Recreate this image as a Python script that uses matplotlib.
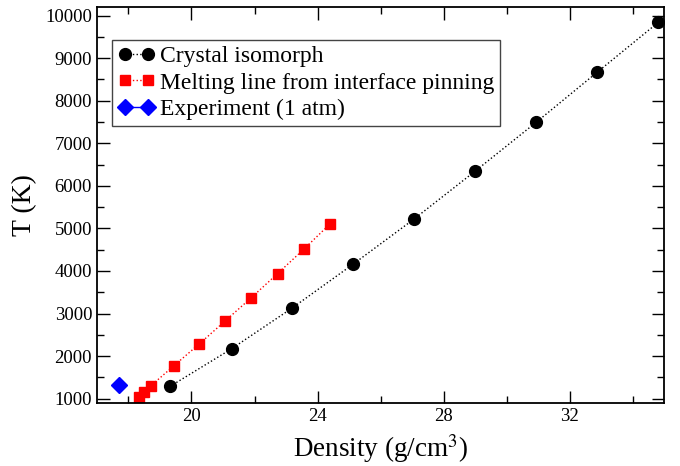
import numpy as np
import matplotlib.pyplot as plt
from matplotlib.ticker import MultipleLocator

plt.rcParams['font.family'] = ['Liberation Serif', 'DejaVu Serif']
plt.rcParams['mathtext.fontset'] = 'stix'

# crystal isomorph
iso_rho = [19.32, 21.27, 23.20, 25.13, 27.06, 29.00, 30.94, 32.87, 34.81]
iso_T = [1290, 2172, 3133, 4160, 5218, 6343, 7492, 8664, 9836]

# melting line from interface pinning
melt_rho = [18.33, 18.49, 18.70, 19.45, 20.25, 21.06, 21.90, 22.73, 23.57, 24.40]
melt_T = [1040, 1157, 1297, 1780, 2289, 2821, 3374, 3937, 4515, 5108]

# experiment at 1 atm
exp_rho = [17.70]
exp_T = [1330]

fig = plt.figure(figsize=(6.8, 4.66), dpi=100)
ax = fig.add_axes([0.1426, 0.1352, 0.834, 0.8498])

ax.plot(iso_rho, iso_T, color='black', ls=':', lw=1, marker='o', ms=8.5,
        label='Crystal isomorph')
ax.plot(melt_rho, melt_T, color='red', ls=':', lw=1, marker='s', ms=7,
        label='Melting line from interface pinning')
ax.plot(exp_rho, exp_T, color='blue', ls='-', lw=1, marker='D', ms=8,
        label='Experiment (1 atm)')

ax.set_xlim(17, 35)
ax.set_ylim(900, 10200)
ax.xaxis.set_major_locator(MultipleLocator(4))
ax.xaxis.set_minor_locator(MultipleLocator(2))
ax.yaxis.set_major_locator(MultipleLocator(1000))
ax.yaxis.set_minor_locator(MultipleLocator(500))
ax.set_xticks([20, 24, 28, 32])
ax.tick_params(which='both', direction='in', top=True, right=True, labelsize=13.5, width=1)
ax.tick_params(which='major', length=9)
ax.tick_params(which='minor', length=5)
for s in ax.spines.values():
    s.set_linewidth(1.3)

ax.set_xlabel('Density (g/cm$^{3}$)', fontsize=19.5, labelpad=5)
ax.set_ylabel('T (K)', fontsize=20, labelpad=6)

leg = ax.legend(loc='upper left', bbox_to_anchor=(0.026, 0.917), numpoints=2,
                fontsize=17, fancybox=False, framealpha=1, edgecolor='#444444',
                borderpad=0.25, labelspacing=0.2, handlelength=1.6, handletextpad=0.2,
                borderaxespad=0)
leg.get_frame().set_linewidth(1)

plt.savefig('out.png', dpi=100)
